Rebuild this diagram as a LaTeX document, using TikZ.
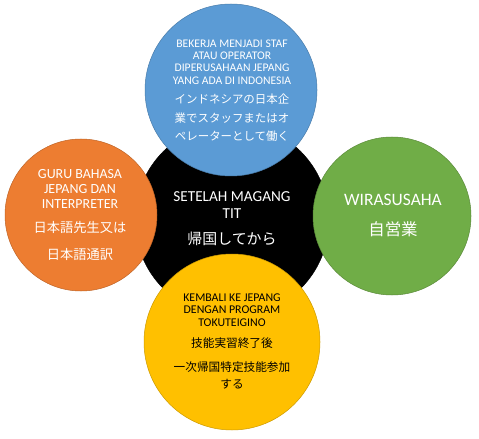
\documentclass[tikz,border=0pt]{standalone}
\usepackage{fontspec}
\setmainfont{Carlito}
\newfontfamily\jpfont{Noto Sans CJK JP}
\usetikzlibrary{positioning}
\definecolor{wkblue}{HTML}{5B9BD5}
\definecolor{wkorange}{HTML}{ED7D31}
\definecolor{wkgreen}{HTML}{70AD47}
\definecolor{wkyellow}{HTML}{FFC000}
\tikzset{
  bubble/.style={circle, inner sep=0pt, fill=#1, draw=#1!80!black, line width=0.5pt},
  lat/.style={align=center, inner sep=0pt, text=white},
  jp/.style={align=center, inner sep=0pt, text=white},
}

\begin{document}
\begin{tikzpicture}[x=1bp, y=-1bp]
  \useasboundingbox (0,0) rectangle (479,439);
  % circles
  \node[bubble=black, minimum size=194bp] (mid) at (232,220) {};
  \node[bubble=wkblue, minimum size=172bp] (top) at (231,90) {};
  \node[bubble=wkorange, minimum size=152bp] (left) at (81,215) {};
  \node[bubble=wkgreen, minimum size=158bp] (right) at (392,216) {};
  \node[bubble=wkyellow, minimum size=176bp] (bottom) at (232,342) {};
  % texts
  \node[lat, font=\fontsize{15.3}{17}\selectfont] (midLat) at (232,205) {SETELAH MAGANG\\TIT};
  \node[jp, font=\jpfont\fontsize{15}{18}\selectfont] (midJp) at (232,239) {帰国してから};
  \node[lat, font=\fontsize{11.7}{12.5}\selectfont] (topLat) at (232,62) {BEKERJA MENJADI STAF\\ATAU OPERATOR\\DIPERUSAHAAN JEPANG\\YANG ADA DI INDONESIA};
  \node[jp, font=\jpfont\fontsize{11.5}{18.5}\selectfont] (topJp) at (232,118) {インドネシアの日本企\\業でスタッフまたはオ\\ペレーターとして働く};
  \node[lat, font=\fontsize{14}{15}\selectfont] (leftLat) at (80,189) {GURU BAHASA\\JEPANG DAN\\INTERPRETER};
  \node[jp, font=\jpfont\fontsize{13.3}{28}\selectfont] (leftJp) at (80,241) {日本語先生又は\\日本語通訳};
  \node[lat, font=\fontsize{17.5}{18}\selectfont] (rightLat) at (393,200) {WIRASUSAHA};
  \node[jp, font=\jpfont\fontsize{16.5}{20}\selectfont] (rightJp) at (393,229) {自営業};
  \node[lat, text=black, font=\fontsize{11.9}{12.7}\selectfont] (bottomLat) at (232,310) {KEMBALI KE JEPANG\\DENGAN PROGRAM\\TOKUTEIGINO};
  \node[jp, text=black, font=\jpfont\fontsize{11.7}{17}\selectfont] (bottomJpA) at (232,343) {技能実習終了後};
  \node[jp, text=black, font=\jpfont\fontsize{11.7}{17}\selectfont] (bottomJpB) at (232,375.5) {一次帰国特定技能参加\\する};
\end{tikzpicture}
\end{document}
